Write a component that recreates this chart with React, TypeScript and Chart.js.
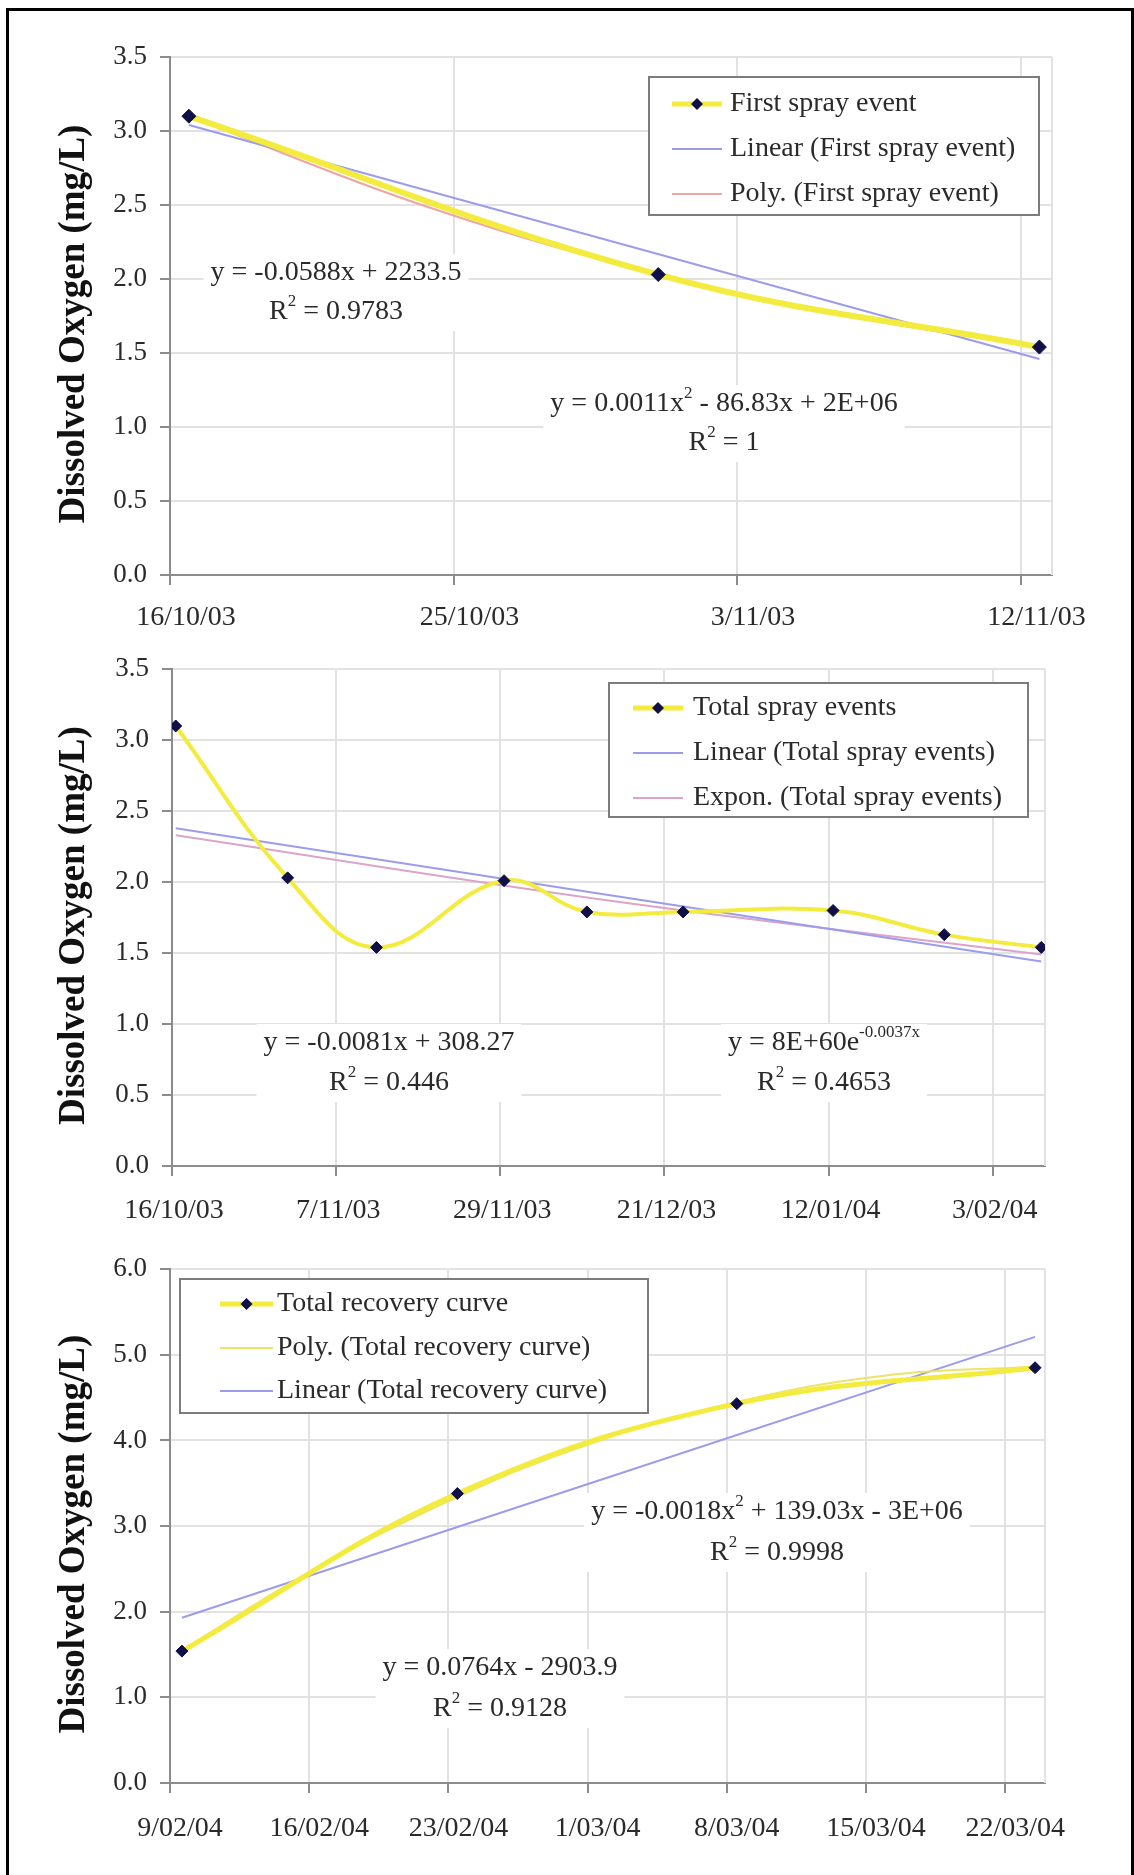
import React, { useEffect, useRef } from 'react';
import { Chart, registerables } from 'chart.js';

Chart.register(...registerables);

// ---------------- Data (x = days elapsed from the first axis date of each panel) ----------------
// Panel 1 – first spray event (axis starts 16/10/03)
const firstSprayDays = [0.6, 15.5, 27.6];
const firstSprayDO = [3.1, 2.03, 1.54];
const firstLinearDays = [0.6, 27.6];
const firstLinearDO = [3.04, 1.46];
const firstPolyDays = [0.6, 8, 15.5, 21.5, 27.6];
const firstPolyDO = [3.1, 2.5, 2.03, 1.75, 1.54];
const firstTickDays = [0, 9, 18, 27];
const firstTickLabels = ['16/10/03', '25/10/03', '3/11/03', '12/11/03'];
const firstLegend = ['First spray event', 'Linear (First spray event)', 'Poly. (First spray event)'];
const firstLinearEq = ['y = -0.0588x + 2233.5', 'R^{2} = 0.9783'];
const firstPolyEq = ['y = 0.0011x^{2} - 86.83x + 2E+06', 'R^{2} = 1'];

// Panel 2 – total spray events (axis starts 16/10/03)
const totalSprayDays = [0.5, 15.5, 27.4, 44.5, 55.6, 68.5, 88.6, 103.5, 116.5];
const totalSprayDO = [3.1, 2.03, 1.54, 2.01, 1.79, 1.79, 1.8, 1.63, 1.54];
const totalLinearDays = [0.5, 116.5];
const totalLinearDO = [2.38, 1.44];
const totalExpDays = [0.5, 58.5, 116.5];
const totalExpDO = [2.33, 1.87, 1.49];
const totalTickDays = [0, 22, 44, 66, 88, 110];
const totalTickLabels = ['16/10/03', '7/11/03', '29/11/03', '21/12/03', '12/01/04', '3/02/04'];
const totalLegend = ['Total spray events', 'Linear (Total spray events)', 'Expon. (Total spray events)'];
const totalLinearEq = ['y = -0.0081x + 308.27', 'R^{2} = 0.446'];
const totalExpEq = ['y = 8E+60e^{-0.0037x}', 'R^{2} = 0.4653'];

// Panel 3 – total recovery curve (axis starts 9/02/04)
const recoveryDays = [0.6, 14.45, 28.5, 43.5];
const recoveryDO = [1.54, 3.38, 4.43, 4.85];
const recoveryPolyDays = [0.6, 7, 14.45, 21, 28.5, 36, 43.5];
const recoveryPolyDO = [1.55, 2.46, 3.34, 3.95, 4.45, 4.76, 4.86];
const recoveryLinearDays = [0.6, 43.5];
const recoveryLinearDO = [1.93, 5.21];
const recoveryTickDays = [0, 7, 14, 21, 28, 35, 42];
const recoveryTickLabels = ['9/02/04', '16/02/04', '23/02/04', '1/03/04', '8/03/04', '15/03/04', '22/03/04'];
const recoveryLegend = ['Total recovery curve', 'Poly. (Total recovery curve)', 'Linear (Total recovery curve)'];
const recoveryPolyEq = ['y = -0.0018x^{2} + 139.03x - 3E+06', 'R^{2} = 0.9998'];
const recoveryLinearEq = ['y = 0.0764x - 2903.9', 'R^{2} = 0.9128'];

const yTitle = 'Dissolved Oxygen (mg/L)';

// ---------------- Styles ----------------
const SERIF = '"Liberation Serif", "Times New Roman", serif';
const YELLOW = '#f3ec3e';
const NAVY = '#101048';
const GRID = '#e2e2e2';
const AXIS = '#8c8c8c';
const TEXT = '#2a2a2a';
const LIN_BLUE = '#9c9cec';
const POLY_RED = '#f0a4a4';
const EXP_PINK = '#dca4c8';
const POLY_YEL = '#ede36a';

const pts = (xs: number[], ys: number[]) => xs.map((x, i) => ({ x, y: ys[i] }));

const mainSet = (label: string, xs: number[], ys: number[], width: number, r: number) => ({
  label,
  data: pts(xs, ys),
  showLine: true,
  borderColor: YELLOW,
  borderWidth: width,
  tension: 0.4,
  pointStyle: 'rectRot',
  pointRadius: r,
  pointBackgroundColor: NAVY,
  pointBorderColor: NAVY,
  pointBorderWidth: 1,
});

const trendSet = (label: string, xs: number[], ys: number[], color: string) => ({
  label,
  data: pts(xs, ys),
  showLine: true,
  borderColor: color,
  borderWidth: 2,
  tension: 0.4,
  pointRadius: 0,
});

type Spec = any;

const specs: Spec[] = [
  {
    canvasTop: 20,
    canvasHeight: 620,
    area: { left: 170, right: 1052, top: 57, bottom: 575 },
    xMax: 28,
    yMax: 3.5,
    yStep: 0.5,
    xTicks: firstTickDays,
    xLabels: firstTickLabels,
    labelOffset: 16,
    xPad: 16,
    datasets: [
      mainSet(firstLegend[0], firstSprayDays, firstSprayDO, 6, 7),
      trendSet(firstLegend[1], firstLinearDays, firstLinearDO, LIN_BLUE),
      trendSet(firstLegend[2], firstPolyDays, firstPolyDO, POLY_RED),
    ],
    legend: {
      box: [649, 77, 1039, 215],
      sample: [672, 722],
      textX: 730,
      rowY: [104, 149, 194],
      kinds: ['main', LIN_BLUE, POLY_RED],
      labels: firstLegend,
    },
    eqs: [
      { cx: 336, cy: [273, 312], lines: firstLinearEq },
      { cx: 724, cy: [404, 443], lines: firstPolyEq },
    ],
  },
  {
    canvasTop: 640,
    canvasHeight: 600,
    area: { left: 172, right: 1045, top: 661, bottom: 1166 },
    xMax: 117,
    yMax: 3.5,
    yStep: 0.5,
    xTicks: totalTickDays,
    xLabels: totalTickLabels,
    labelOffset: 2,
    xPad: 18,
    datasets: [
      mainSet(totalLegend[0], totalSprayDays, totalSprayDO, 4, 6),
      trendSet(totalLegend[1], totalLinearDays, totalLinearDO, LIN_BLUE),
      trendSet(totalLegend[2], totalExpDays, totalExpDO, EXP_PINK),
    ],
    legend: {
      box: [609, 683, 1028, 817],
      sample: [633, 683],
      textX: 693,
      rowY: [708, 753, 798],
      kinds: ['main', LIN_BLUE, EXP_PINK],
      labels: totalLegend,
    },
    eqs: [
      { cx: 389, cy: [1043, 1083], lines: totalLinearEq },
      { cx: 824, cy: [1043, 1083], lines: totalExpEq },
    ],
  },
  {
    canvasTop: 1240,
    canvasHeight: 630,
    area: { left: 170, right: 1045, top: 1267, bottom: 1783 },
    xMax: 44,
    yMax: 6,
    yStep: 1,
    xTicks: recoveryTickDays,
    xLabels: recoveryTickLabels,
    labelOffset: 10,
    xPad: 19,
    datasets: [
      mainSet(recoveryLegend[0], recoveryDays, recoveryDO, 5, 6),
      trendSet(recoveryLegend[1], recoveryPolyDays, recoveryPolyDO, POLY_YEL),
      trendSet(recoveryLegend[2], recoveryLinearDays, recoveryLinearDO, LIN_BLUE),
    ],
    legend: {
      box: [180, 1279, 648, 1413],
      sample: [220, 273],
      textX: 277,
      rowY: [1304, 1348, 1391],
      kinds: ['main', POLY_YEL, LIN_BLUE],
      labels: recoveryLegend,
    },
    eqs: [
      { cx: 777, cy: [1512, 1553], lines: recoveryPolyEq },
      { cx: 500, cy: [1668, 1709], lines: recoveryLinearEq },
    ],
  },
];

// ---------------- Drawing helpers ----------------
type Seg = { t: string; sup: boolean };
const parseSegs = (s: string): Seg[] => {
  const parts = s.split(/\^\{([^}]*)\}/);
  return parts.map((t, i) => ({ t, sup: i % 2 === 1 })).filter((p) => p.t.length > 0);
};

const EQ_SIZE = 28;
const fontFor = (sup: boolean) => `${sup ? Math.round(EQ_SIZE * 0.6) : EQ_SIZE}px ${SERIF}`;

const measureSegs = (ctx: CanvasRenderingContext2D, segs: Seg[]) =>
  segs.reduce((w, s) => {
    ctx.font = fontFor(s.sup);
    return w + ctx.measureText(s.t).width;
  }, 0);

const drawSegs = (ctx: CanvasRenderingContext2D, segs: Seg[], cx: number, cy: number) => {
  let x = cx - measureSegs(ctx, segs) / 2;
  ctx.textAlign = 'left';
  ctx.textBaseline = 'middle';
  segs.forEach((s) => {
    ctx.font = fontFor(s.sup);
    ctx.fillText(s.t, x, s.sup ? cy - EQ_SIZE * 0.36 : cy);
    x += ctx.measureText(s.t).width;
  });
};

const overlayPlugin = (spec: Spec) => ({
  id: 'overlay' + spec.canvasTop,
  beforeDatasetsDraw(chart: any) {
    const { ctx, chartArea: a } = chart;
    ctx.save();
    ctx.strokeStyle = GRID;
    ctx.lineWidth = 2;
    ctx.beginPath();
    ctx.moveTo(a.right, a.top);
    ctx.lineTo(a.right, a.bottom);
    ctx.stroke();
    ctx.restore();
  },
  afterDraw(chart: any) {
    const { ctx, chartArea: a } = chart;
    const off = spec.canvasTop;
    ctx.save();

    // axis title
    ctx.save();
    ctx.translate(74, (a.top + a.bottom) / 2 + 8);
    ctx.rotate(-Math.PI / 2);
    ctx.font = `bold 37px ${SERIF}`;
    ctx.fillStyle = '#111';
    ctx.textAlign = 'center';
    ctx.textBaseline = 'middle';
    ctx.fillText(yTitle, 0, 0);
    ctx.restore();

    // trendline equation labels
    spec.eqs.forEach((eq: any) => {
      const lines = eq.lines.map(parseSegs);
      const w = Math.max(...lines.map((l: Seg[]) => measureSegs(ctx, l)));
      const y0 = eq.cy[0] - off - 19;
      const y1 = eq.cy[eq.cy.length - 1] - off + 19;
      ctx.fillStyle = '#ffffff';
      ctx.fillRect(eq.cx - w / 2 - 7, y0, w + 14, y1 - y0);
      ctx.fillStyle = TEXT;
      lines.forEach((l: Seg[], i: number) => drawSegs(ctx, l, eq.cx, eq.cy[i] - off));
    });

    // legend
    const lg = spec.legend;
    const [bx1, by1, bx2, by2] = lg.box;
    ctx.fillStyle = '#ffffff';
    ctx.fillRect(bx1, by1 - off, bx2 - bx1, by2 - by1);
    ctx.strokeStyle = '#7c7c7c';
    ctx.lineWidth = 2;
    ctx.strokeRect(bx1, by1 - off, bx2 - bx1, by2 - by1);
    lg.labels.forEach((label: string, i: number) => {
      const y = lg.rowY[i] - off;
      const kind = lg.kinds[i];
      ctx.beginPath();
      ctx.moveTo(lg.sample[0], y);
      ctx.lineTo(lg.sample[1], y);
      if (kind === 'main') {
        ctx.strokeStyle = YELLOW;
        ctx.lineWidth = 5;
        ctx.stroke();
        const cx = (lg.sample[0] + lg.sample[1]) / 2;
        const r = 6;
        ctx.beginPath();
        ctx.moveTo(cx, y - r);
        ctx.lineTo(cx + r, y);
        ctx.lineTo(cx, y + r);
        ctx.lineTo(cx - r, y);
        ctx.closePath();
        ctx.fillStyle = NAVY;
        ctx.fill();
      } else {
        ctx.strokeStyle = kind;
        ctx.lineWidth = 2;
        ctx.stroke();
      }
      ctx.fillStyle = TEXT;
      ctx.font = `28px ${SERIF}`;
      ctx.textAlign = 'left';
      ctx.textBaseline = 'middle';
      ctx.fillText(label, lg.textX, y);
    });

    ctx.restore();
  },
});

const buildConfig = (spec: Spec): any => {
  const a = spec.area;
  const xAxisH = 60;
  return {
    type: 'scatter',
    data: { datasets: spec.datasets },
    options: {
      responsive: false,
      animation: false,
      devicePixelRatio: 1,
      layout: {
        padding: {
          left: 0,
          top: a.top - spec.canvasTop,
          right: 1134 - a.right,
          bottom: spec.canvasTop + spec.canvasHeight - a.bottom - xAxisH,
        },
      },
      plugins: { legend: { display: false }, tooltip: { enabled: false } },
      scales: {
        x: {
          type: 'linear',
          min: 0,
          max: spec.xMax,
          afterBuildTicks: (s: any) => {
            s.ticks = spec.xTicks.map((v: number) => ({ value: v }));
          },
          afterFit: (s: any) => {
            s.height = xAxisH;
          },
          ticks: {
            callback: (_v: any, i: number) => spec.xLabels[i],
            font: { family: SERIF, size: 28 },
            color: TEXT,
            padding: spec.xPad,
            labelOffset: spec.labelOffset,
            maxRotation: 0,
            autoSkip: false,
          },
          grid: { color: GRID, lineWidth: 2, tickColor: AXIS, tickLength: 10, tickWidth: 2 },
          border: { display: true, color: AXIS, width: 2 },
        },
        y: {
          min: 0,
          max: spec.yMax,
          afterFit: (s: any) => {
            s.width = a.left;
          },
          ticks: {
            stepSize: spec.yStep,
            callback: (v: any) => Number(v).toFixed(1),
            font: { family: SERIF, size: 27 },
            color: TEXT,
            padding: 13,
          },
          grid: { color: GRID, lineWidth: 2, tickColor: AXIS, tickLength: 10, tickWidth: 2 },
          border: { display: true, color: AXIS, width: 2 },
        },
      },
    },
    plugins: [overlayPlugin(spec)],
  };
};

function DOChart({ spec }: { spec: Spec }) {
  const ref = useRef<HTMLCanvasElement>(null);
  useEffect(() => {
    if (!ref.current) return;
    const chart = new Chart(ref.current, buildConfig(spec));
    return () => chart.destroy();
  }, [spec]);
  return (
    <canvas
      ref={ref}
      width={1134}
      height={spec.canvasHeight}
      style={{ position: 'absolute', left: 0, top: spec.canvasTop, width: 1134, height: spec.canvasHeight, display: 'block' }}
    />
  );
}

export default function App() {
  return (
    <div style={{ position: 'absolute', left: 0, top: 0, width: 1134, height: 1875, background: '#ffffff', overflow: 'hidden' }}>
      <div
        style={{
          position: 'absolute',
          left: 6,
          top: 8,
          width: 1128,
          height: 1875,
          boxSizing: 'border-box',
          borderLeft: '3px solid #000',
          borderTop: '3px solid #000',
          borderRight: '3px solid #000',
        }}
      />
      {specs.map((s, i) => (
        <DOChart key={i} spec={s} />
      ))}
    </div>
  );
}
